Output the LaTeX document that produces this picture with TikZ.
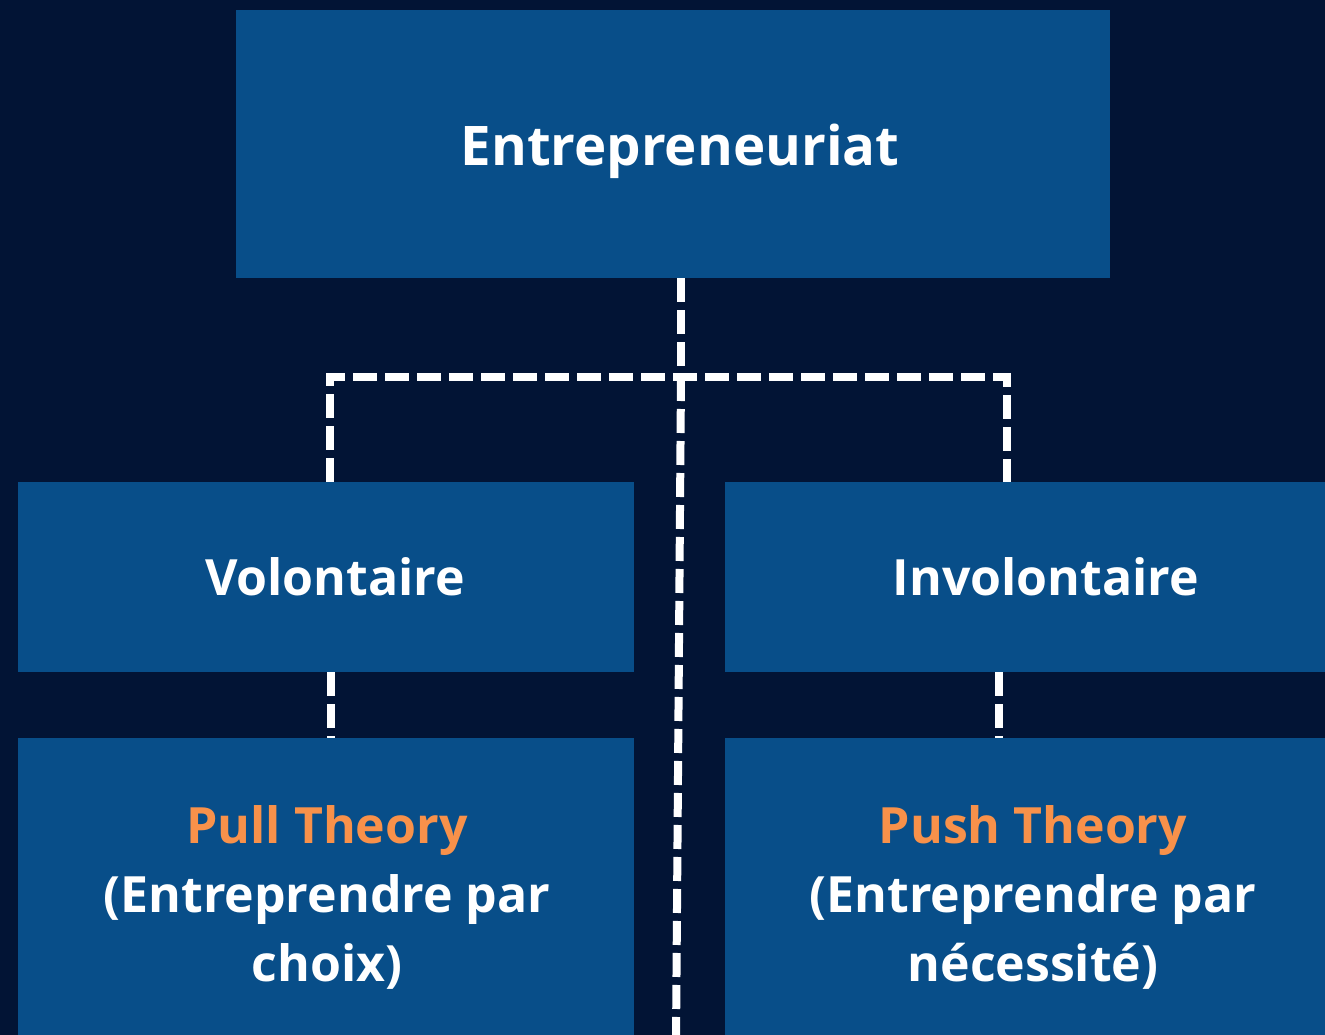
\documentclass[tikz,border=0pt]{standalone}
\usepackage{fontspec}
\setmainfont{Open Sans}
\definecolor{bgnavy}{HTML}{021435}
\definecolor{boxblue}{HTML}{084E89}
\definecolor{accent}{HTML}{F8914A}
\tikzset{
  box/.style={fill=boxblue, draw=none, inner sep=0pt},
  lbl/.style={inner sep=0pt, text=white, align=center, font=\bfseries\fontsize{50}{69}\selectfont},
  link/.style={draw=white, line width=8pt, dash pattern=on 24pt off 8pt}
}
\begin{document}
\begin{tikzpicture}[x=1pt,y=-1pt]
\clip (0,0) rectangle (1325,1035);
\fill[bgnavy] (0,0) rectangle (1325,1035);
\node[box, minimum width=874pt, minimum height=268pt] (top) at (673,144) {};
\node[box, minimum width=616pt, minimum height=190pt] (vol) at (326,577) {};
\node[box, minimum width=616pt, minimum height=190pt] (invol) at (1033,577) {};
\node[box, minimum width=616pt, minimum height=316pt] (pull) at (326,896) {};
\node[box, minimum width=616pt, minimum height=316pt] (push) at (1033,896) {};
\node[lbl, font=\bfseries\fontsize{54.6}{60}\selectfont] (toptext) at (680,151) {Entrepreneuriat};
\node[lbl] (voltext) at (335,577) {Volontaire};
\node[lbl] (involtext) at (1046,577) {Involontaire};
\node[lbl] (pulltext) at (327,897) {\textcolor{accent}{Pull Theory}\\(Entreprendre par\\choix)};
\node[lbl] (pushtext) at (1033,897) {\textcolor{accent}{Push Theory}\\(Entreprendre par\\nécessité)};
\coordinate (hub) at (681,377);
\coordinate (hl) at (330,377);
\coordinate (hr) at (1007,377);
\coordinate (down) at (676,1040);
\draw[link] (top.south -| hub) -- (hub);
\draw[link] (hl |- vol.north) -- (hl) -- (hr) -- (hr |- invol.north);
\draw[link] (hub) -- (down);
\draw[link] (331,672) coordinate (vb) -- (vb |- pull.north);
\draw[link] (999,672) coordinate (ib) -- (ib |- push.north);
\end{tikzpicture}
\end{document}
